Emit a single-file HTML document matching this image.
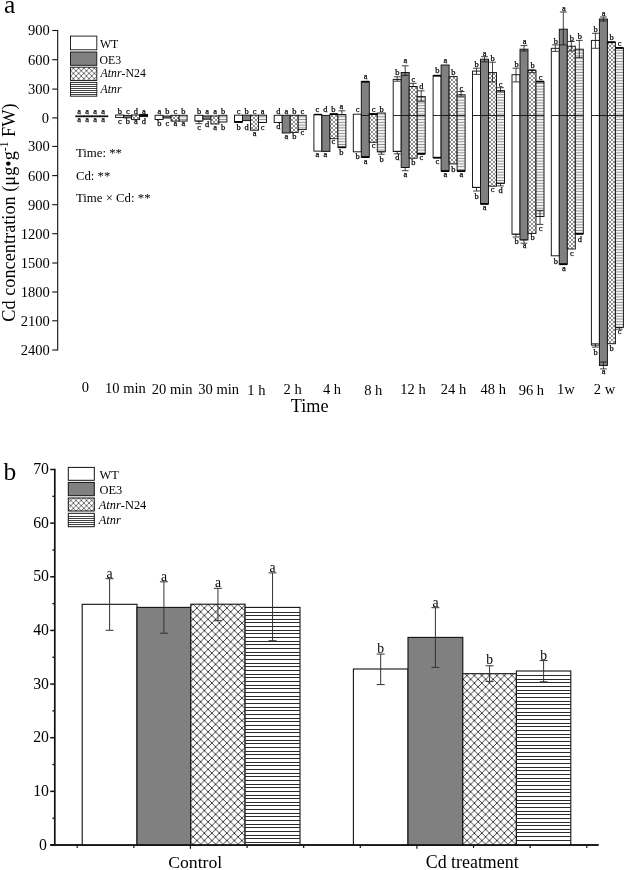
<!DOCTYPE html>
<html lang="en"><head><meta charset="utf-8"><title>Cd concentration figure</title>
<style>html,body{margin:0;padding:0;background:#fff}svg{display:block}text{font-family:"Liberation Serif", serif;fill:#000}</style>
</head><body>
<svg width="625" height="870" viewBox="0 0 625 870">
<defs>
<pattern id="xa" width="4" height="4" patternUnits="userSpaceOnUse"><rect width="4" height="4" fill="#fff"/><path d="M-1,-1L5,5M-1,5L5,-1" stroke="#444" stroke-width="0.6" fill="none"/></pattern>
<pattern id="ha" width="4" height="2.77" patternUnits="userSpaceOnUse"><rect width="4" height="2.77" fill="#fff"/><path d="M0,0.5H4" stroke="#505050" stroke-width="0.62"/><path d="M0,1.9H4" stroke="#d4d4d4" stroke-width="0.5"/></pattern>
<pattern id="xl" width="5.24" height="5.24" patternUnits="userSpaceOnUse"><rect width="5.24" height="5.24" fill="#fff"/><path d="M-1,-1L6.24,6.24M-1,6.24L6.24,-1" stroke="#222" stroke-width="0.65" fill="none"/></pattern>
<pattern id="hl" width="4" height="2.25" patternUnits="userSpaceOnUse"><rect width="4" height="2.25" fill="#fff"/><path d="M0,1.1H4" stroke="#222" stroke-width="0.8"/></pattern>
<pattern id="xb" width="7.5" height="7.5" patternUnits="userSpaceOnUse" x="1.85" y="0.55"><rect width="7.5" height="7.5" fill="#fff"/><path d="M-1,-1L8.5,8.5M-1,8.5L8.5,-1" stroke="#111" stroke-width="0.8" fill="none"/></pattern>
<pattern id="hb" width="6" height="3.66" patternUnits="userSpaceOnUse"><rect width="6" height="3.66" fill="#fff"/><path d="M0,1.83H6" stroke="#111" stroke-width="0.9"/></pattern>
</defs>
<rect width="625" height="870" fill="#fff"/>
<g id="panel-a">
<text x="4" y="13.4" font-size="25.5" text-anchor="start">a</text>
<line x1="57.7" y1="30" x2="57.7" y2="350.5" stroke="#111" stroke-width="1.1"/>
<line x1="52.2" y1="30.5" x2="57.7" y2="30.5" stroke="#111" stroke-width="1.1"/>
<text x="49.8" y="35.4" font-size="14.5" text-anchor="end">900</text>
<line x1="52.2" y1="59.7" x2="57.7" y2="59.7" stroke="#111" stroke-width="1.1"/>
<text x="49.8" y="64.6" font-size="14.5" text-anchor="end">600</text>
<line x1="52.2" y1="89.1" x2="57.7" y2="89.1" stroke="#111" stroke-width="1.1"/>
<text x="49.8" y="94" font-size="14.5" text-anchor="end">300</text>
<line x1="52.2" y1="117.9" x2="57.7" y2="117.9" stroke="#111" stroke-width="1.1"/>
<text x="48.9" y="122.8" font-size="14.5" text-anchor="end">0</text>
<line x1="52.2" y1="146.4" x2="57.7" y2="146.4" stroke="#111" stroke-width="1.1"/>
<text x="49.8" y="151.3" font-size="14.5" text-anchor="end">300</text>
<line x1="52.2" y1="175.6" x2="57.7" y2="175.6" stroke="#111" stroke-width="1.1"/>
<text x="49.8" y="180.5" font-size="14.5" text-anchor="end">600</text>
<line x1="52.2" y1="204.7" x2="57.7" y2="204.7" stroke="#111" stroke-width="1.1"/>
<text x="49.8" y="209.6" font-size="14.5" text-anchor="end">900</text>
<line x1="52.2" y1="233.7" x2="57.7" y2="233.7" stroke="#111" stroke-width="1.1"/>
<text x="49.8" y="238.6" font-size="14.5" text-anchor="end">1200</text>
<line x1="52.2" y1="263" x2="57.7" y2="263" stroke="#111" stroke-width="1.1"/>
<text x="49.8" y="267.9" font-size="14.5" text-anchor="end">1500</text>
<line x1="52.2" y1="292" x2="57.7" y2="292" stroke="#111" stroke-width="1.1"/>
<text x="49.8" y="296.9" font-size="14.5" text-anchor="end">1800</text>
<line x1="52.2" y1="320.8" x2="57.7" y2="320.8" stroke="#111" stroke-width="1.1"/>
<text x="49.8" y="325.7" font-size="14.5" text-anchor="end">2100</text>
<line x1="52.2" y1="350" x2="57.7" y2="350" stroke="#111" stroke-width="1.1"/>
<text x="49.8" y="354.9" font-size="14.5" text-anchor="end">2400</text>
<text transform="translate(14.6,321.7) rotate(-90)" font-size="18.3">Cd concentration (μg•g<tspan font-size="11.5" dy="-7">-1</tspan><tspan dy="7"> FW)</tspan></text>
<rect x="70.5" y="36.1" width="26.3" height="13.7" fill="#fff" stroke="#111" stroke-width="0.9"/>
<rect x="70.5" y="52" width="26.3" height="13.3" fill="#808080" stroke="#111" stroke-width="0.9"/>
<rect x="70.5" y="67.2" width="26.3" height="13.3" fill="url(#xl)" stroke="#111" stroke-width="0.9"/>
<rect x="70.5" y="82.4" width="26.3" height="13.8" fill="#fff" stroke="#111" stroke-width="0.9"/>
<text x="99.9" y="47.6" font-size="11.8" text-anchor="start">WT</text>
<text x="99.6" y="64" font-size="11.8" text-anchor="start">OE3</text>
<text x="100.6" y="77.4" font-size="11.8"><tspan font-style="italic">Atnr</tspan>-N24</text>
<text x="100.6" y="93" font-size="11.8" text-anchor="start" font-style="italic">Atnr</text>
<line x1="70.5" y1="84.5" x2="96.8" y2="84.5" stroke="#111" stroke-width="0.8"/>
<line x1="70.5" y1="86.5" x2="96.8" y2="86.5" stroke="#111" stroke-width="0.8"/>
<line x1="70.5" y1="88.5" x2="96.8" y2="88.5" stroke="#111" stroke-width="0.8"/>
<line x1="70.5" y1="90.5" x2="96.8" y2="90.5" stroke="#111" stroke-width="0.8"/>
<line x1="70.5" y1="92.5" x2="96.8" y2="92.5" stroke="#111" stroke-width="0.8"/>
<line x1="70.5" y1="94.5" x2="96.8" y2="94.5" stroke="#111" stroke-width="0.8"/>
<text x="75.9" y="157.3" font-size="12.8" text-anchor="start">Time: **</text>
<text x="75.9" y="179.7" font-size="12.8" text-anchor="start">Cd: **</text>
<text x="75.9" y="202.1" font-size="12.8" text-anchor="start">Time × Cd: **</text>
<text x="85.4" y="391.9" font-size="14.5" text-anchor="middle">0</text>
<text x="125.4" y="393" font-size="14.5" text-anchor="middle">10 min</text>
<text x="172.2" y="393.6" font-size="14.5" text-anchor="middle">20 min</text>
<text x="218.6" y="394.2" font-size="14.5" text-anchor="middle">30 min</text>
<text x="256.4" y="394.5" font-size="14.5" text-anchor="middle">1 h</text>
<text x="292.6" y="393.6" font-size="14.5" text-anchor="middle">2 h</text>
<text x="332" y="393.6" font-size="14.5" text-anchor="middle">4 h</text>
<text x="373.3" y="394.5" font-size="14.5" text-anchor="middle">8 h</text>
<text x="413" y="393.6" font-size="14.5" text-anchor="middle">12 h</text>
<text x="453.5" y="393.6" font-size="14.5" text-anchor="middle">24 h</text>
<text x="493.3" y="393.6" font-size="14.5" text-anchor="middle">48 h</text>
<text x="531.4" y="394.5" font-size="14.5" text-anchor="middle">96 h</text>
<text x="565.8" y="393.5" font-size="14.5" text-anchor="middle">1w</text>
<text x="604.5" y="393.5" font-size="14.5" text-anchor="middle">2 w</text>
<text x="309.6" y="411.8" font-size="18.2" text-anchor="middle">Time</text>
<g>
<rect x="75.8" y="115.9" width="8" height="0.8" fill="#fff" stroke="#111" stroke-width="0.95"/>
<rect x="83.8" y="115.9" width="8" height="0.8" fill="#808080" stroke="#111" stroke-width="0.95"/>
<rect x="91.8" y="115.9" width="8" height="0.8" fill="url(#xa)" stroke="#111" stroke-width="0.95"/>
<rect x="99.8" y="115.9" width="8" height="0.8" fill="url(#ha)" stroke="#111" stroke-width="0.95"/>
<text x="79.1" y="113.9" font-size="8.4" text-anchor="middle" stroke="#000" stroke-width="0.25">a</text>
<text x="79.1" y="121.9" font-size="8.4" text-anchor="middle" stroke="#000" stroke-width="0.25">a</text>
<text x="87.1" y="113.9" font-size="8.4" text-anchor="middle" stroke="#000" stroke-width="0.25">a</text>
<text x="87.1" y="121.9" font-size="8.4" text-anchor="middle" stroke="#000" stroke-width="0.25">a</text>
<text x="95.1" y="113.9" font-size="8.4" text-anchor="middle" stroke="#000" stroke-width="0.25">a</text>
<text x="95.1" y="121.9" font-size="8.4" text-anchor="middle" stroke="#000" stroke-width="0.25">a</text>
<text x="103.1" y="113.9" font-size="8.4" text-anchor="middle" stroke="#000" stroke-width="0.25">a</text>
<text x="103.1" y="121.9" font-size="8.4" text-anchor="middle" stroke="#000" stroke-width="0.25">a</text>
</g>
<g>
<rect x="115.6" y="115" width="8" height="2.4" fill="#fff" stroke="#111" stroke-width="0.95"/>
<rect x="123.6" y="115.4" width="8" height="2.4" fill="#808080" stroke="#111" stroke-width="0.95"/>
<rect x="131.6" y="115" width="8" height="4.6" fill="url(#xa)" stroke="#111" stroke-width="0.95"/>
<rect x="139.6" y="114.4" width="8" height="2.2" fill="#000" stroke="#111" stroke-width="0.95"/>
<text x="119.8" y="113.9" font-size="8.4" text-anchor="middle" stroke="#000" stroke-width="0.25">b</text>
<text x="119.8" y="124.1" font-size="8.4" text-anchor="middle" stroke="#000" stroke-width="0.25">c</text>
<text x="127.8" y="113.9" font-size="8.4" text-anchor="middle" stroke="#000" stroke-width="0.25">c</text>
<text x="127.8" y="124.1" font-size="8.4" text-anchor="middle" stroke="#000" stroke-width="0.25">b</text>
<text x="135.8" y="113.9" font-size="8.4" text-anchor="middle" stroke="#000" stroke-width="0.25">d</text>
<text x="135.8" y="124.1" font-size="8.4" text-anchor="middle" stroke="#000" stroke-width="0.25">a</text>
<text x="143.8" y="113.9" font-size="8.4" text-anchor="middle" stroke="#000" stroke-width="0.25">a</text>
<text x="143.8" y="124.1" font-size="8.4" text-anchor="middle" stroke="#000" stroke-width="0.25">d</text>
</g>
<g>
<rect x="155.1" y="115.3" width="8" height="4.2" fill="#fff" stroke="#111" stroke-width="0.95"/>
<rect x="163.1" y="116" width="8" height="2" fill="#808080" stroke="#111" stroke-width="0.95"/>
<rect x="171.1" y="115.3" width="8" height="5.8" fill="url(#xa)" stroke="#111" stroke-width="0.95"/>
<rect x="179.1" y="115.3" width="8" height="5.8" fill="url(#ha)" stroke="#111" stroke-width="0.95"/>
<text x="159.3" y="113.9" font-size="8.4" text-anchor="middle" stroke="#000" stroke-width="0.25">a</text>
<text x="159.3" y="125.7" font-size="8.4" text-anchor="middle" stroke="#000" stroke-width="0.25">b</text>
<text x="167.3" y="113.9" font-size="8.4" text-anchor="middle" stroke="#000" stroke-width="0.25">b</text>
<text x="167.3" y="125.7" font-size="8.4" text-anchor="middle" stroke="#000" stroke-width="0.25">c</text>
<text x="175.3" y="113.9" font-size="8.4" text-anchor="middle" stroke="#000" stroke-width="0.25">c</text>
<text x="175.3" y="125.7" font-size="8.4" text-anchor="middle" stroke="#000" stroke-width="0.25">a</text>
<text x="183.3" y="113.9" font-size="8.4" text-anchor="middle" stroke="#000" stroke-width="0.25">b</text>
<text x="183.3" y="125.7" font-size="8.4" text-anchor="middle" stroke="#000" stroke-width="0.25">a</text>
</g>
<g>
<rect x="194.9" y="115.3" width="8" height="5.8" fill="#fff" stroke="#111" stroke-width="0.95"/>
<rect x="202.9" y="115.9" width="8" height="3.3" fill="#808080" stroke="#111" stroke-width="0.95"/>
<rect x="210.9" y="115.9" width="8" height="8.1" fill="url(#xa)" stroke="#111" stroke-width="0.95"/>
<rect x="218.9" y="115.3" width="8" height="6.7" fill="url(#ha)" stroke="#111" stroke-width="0.95"/>
<line x1="198.9" y1="121.1" x2="198.9" y2="123.7" stroke="#111" stroke-width="0.8"/>
<line x1="195.5" y1="121.1" x2="202.3" y2="121.1" stroke="#111" stroke-width="0.8"/>
<line x1="195.5" y1="123.7" x2="202.3" y2="123.7" stroke="#111" stroke-width="0.8"/>
<text x="199.1" y="113.9" font-size="8.4" text-anchor="middle" stroke="#000" stroke-width="0.25">b</text>
<text x="199.1" y="129.5" font-size="8.4" text-anchor="middle" stroke="#000" stroke-width="0.25">c</text>
<text x="207.1" y="113.9" font-size="8.4" text-anchor="middle" stroke="#000" stroke-width="0.25">a</text>
<text x="207.1" y="127" font-size="8.4" text-anchor="middle" stroke="#000" stroke-width="0.25">d</text>
<text x="215.1" y="113.9" font-size="8.4" text-anchor="middle" stroke="#000" stroke-width="0.25">a</text>
<text x="215.1" y="129.5" font-size="8.4" text-anchor="middle" stroke="#000" stroke-width="0.25">a</text>
<text x="223.1" y="113.9" font-size="8.4" text-anchor="middle" stroke="#000" stroke-width="0.25">b</text>
<text x="223.1" y="129.5" font-size="8.4" text-anchor="middle" stroke="#000" stroke-width="0.25">b</text>
</g>
<g>
<rect x="234.5" y="115.2" width="8" height="7.1" fill="#fff" stroke="#111" stroke-width="0.95"/>
<rect x="242.5" y="115.2" width="8" height="5.4" fill="#808080" stroke="#111" stroke-width="0.95"/>
<rect x="250.5" y="115.2" width="8" height="15" fill="url(#xa)" stroke="#111" stroke-width="0.95"/>
<rect x="258.5" y="115.2" width="8" height="7.3" fill="url(#ha)" stroke="#111" stroke-width="0.95"/>
<line x1="234.6" y1="121.9" x2="242.4" y2="121.9" stroke="#000" stroke-width="1.8"/>
<text x="238.7" y="114.2" font-size="8.4" text-anchor="middle" stroke="#000" stroke-width="0.25">c</text>
<text x="238.7" y="129.6" font-size="8.4" text-anchor="middle" stroke="#000" stroke-width="0.25">b</text>
<text x="246.7" y="114.2" font-size="8.4" text-anchor="middle" stroke="#000" stroke-width="0.25">b</text>
<text x="246.7" y="129.6" font-size="8.4" text-anchor="middle" stroke="#000" stroke-width="0.25">d</text>
<text x="254.7" y="114.2" font-size="8.4" text-anchor="middle" stroke="#000" stroke-width="0.25">c</text>
<text x="254.7" y="135.7" font-size="8.4" text-anchor="middle" stroke="#000" stroke-width="0.25">a</text>
<text x="262.7" y="114.2" font-size="8.4" text-anchor="middle" stroke="#000" stroke-width="0.25">a</text>
<text x="262.7" y="129.6" font-size="8.4" text-anchor="middle" stroke="#000" stroke-width="0.25">c</text>
</g>
<g>
<rect x="274.2" y="115.3" width="8" height="7.2" fill="#fff" stroke="#111" stroke-width="0.95"/>
<rect x="282.2" y="115.3" width="8" height="17.7" fill="#808080" stroke="#111" stroke-width="0.95"/>
<rect x="290.2" y="115.3" width="8" height="17.1" fill="url(#xa)" stroke="#111" stroke-width="0.95"/>
<rect x="298.2" y="115.3" width="8" height="14.3" fill="url(#ha)" stroke="#111" stroke-width="0.95"/>
<text x="278.4" y="114.2" font-size="8.4" text-anchor="middle" stroke="#000" stroke-width="0.25">d</text>
<text x="278.4" y="129" font-size="8.4" text-anchor="middle" stroke="#000" stroke-width="0.25">d</text>
<text x="286.4" y="114.2" font-size="8.4" text-anchor="middle" stroke="#000" stroke-width="0.25">a</text>
<text x="286.4" y="138.6" font-size="8.4" text-anchor="middle" stroke="#000" stroke-width="0.25">a</text>
<text x="294.4" y="114.2" font-size="8.4" text-anchor="middle" stroke="#000" stroke-width="0.25">b</text>
<text x="294.4" y="138.6" font-size="8.4" text-anchor="middle" stroke="#000" stroke-width="0.25">b</text>
<text x="302.4" y="114.2" font-size="8.4" text-anchor="middle" stroke="#000" stroke-width="0.25">c</text>
<text x="302.4" y="134.8" font-size="8.4" text-anchor="middle" stroke="#000" stroke-width="0.25">c</text>
</g>
<g>
<rect x="313.9" y="114.7" width="8" height="36.4" fill="#fff" stroke="#111" stroke-width="0.95"/>
<rect x="321.9" y="115.4" width="8" height="36" fill="#808080" stroke="#111" stroke-width="0.95"/>
<rect x="329.9" y="114.2" width="8" height="24.5" fill="url(#xa)" stroke="#111" stroke-width="0.95"/>
<rect x="337.9" y="114.7" width="8" height="32.7" fill="url(#ha)" stroke="#111" stroke-width="0.95"/>
<line x1="314" y1="114.5" x2="321.8" y2="114.5" stroke="#000" stroke-width="1.4"/>
<line x1="330" y1="114.1" x2="337.8" y2="114.1" stroke="#000" stroke-width="1.8"/>
<line x1="341.9" y1="110.8" x2="341.9" y2="114.7" stroke="#111" stroke-width="0.8"/>
<line x1="338.5" y1="110.8" x2="345.3" y2="110.8" stroke="#111" stroke-width="0.8"/>
<line x1="338.5" y1="114.7" x2="345.3" y2="114.7" stroke="#111" stroke-width="0.8"/>
<line x1="338" y1="147.3" x2="345.8" y2="147.3" stroke="#000" stroke-width="1.8"/>
<text x="317.3" y="111.8" font-size="8.4" text-anchor="middle" stroke="#000" stroke-width="0.25">c</text>
<text x="317.3" y="156.8" font-size="8.4" text-anchor="middle" stroke="#000" stroke-width="0.25">a</text>
<text x="325.3" y="111.8" font-size="8.4" text-anchor="middle" stroke="#000" stroke-width="0.25">d</text>
<text x="325.3" y="156.8" font-size="8.4" text-anchor="middle" stroke="#000" stroke-width="0.25">a</text>
<text x="333.3" y="111.8" font-size="8.4" text-anchor="middle" stroke="#000" stroke-width="0.25">b</text>
<text x="333.3" y="144" font-size="8.4" text-anchor="middle" stroke="#000" stroke-width="0.25">c</text>
<text x="341.3" y="109" font-size="8.4" text-anchor="middle" stroke="#000" stroke-width="0.25">a</text>
<text x="341.3" y="155" font-size="8.4" text-anchor="middle" stroke="#000" stroke-width="0.25">b</text>
</g>
<g>
<rect x="353.3" y="114.2" width="8" height="37.6" fill="#fff" stroke="#111" stroke-width="0.95"/>
<rect x="361.3" y="81.6" width="8" height="75.6" fill="#808080" stroke="#111" stroke-width="0.95"/>
<rect x="369.3" y="114.2" width="8" height="28.1" fill="url(#xa)" stroke="#111" stroke-width="0.95"/>
<rect x="377.3" y="113" width="8" height="38.8" fill="url(#ha)" stroke="#111" stroke-width="0.95"/>
<line x1="361.4" y1="81.7" x2="369.2" y2="81.7" stroke="#000" stroke-width="1.8"/>
<line x1="361.4" y1="157.1" x2="369.2" y2="157.1" stroke="#000" stroke-width="1.8"/>
<line x1="369.4" y1="114.05" x2="377.2" y2="114.05" stroke="#000" stroke-width="1.9"/>
<line x1="381.3" y1="151.8" x2="381.3" y2="154.3" stroke="#111" stroke-width="0.8"/>
<line x1="377.9" y1="151.8" x2="384.7" y2="151.8" stroke="#111" stroke-width="0.8"/>
<line x1="377.9" y1="154.3" x2="384.7" y2="154.3" stroke="#111" stroke-width="0.8"/>
<text x="357.5" y="111.8" font-size="8.4" text-anchor="middle" stroke="#000" stroke-width="0.25">c</text>
<text x="357.5" y="159.3" font-size="8.4" text-anchor="middle" stroke="#000" stroke-width="0.25">b</text>
<text x="365.5" y="79.4" font-size="8.4" text-anchor="middle" stroke="#000" stroke-width="0.25">a</text>
<text x="365.5" y="163.7" font-size="8.4" text-anchor="middle" stroke="#000" stroke-width="0.25">a</text>
<text x="373.5" y="111.8" font-size="8.4" text-anchor="middle" stroke="#000" stroke-width="0.25">c</text>
<text x="373.5" y="147.8" font-size="8.4" text-anchor="middle" stroke="#000" stroke-width="0.25">c</text>
<text x="381.5" y="111.8" font-size="8.4" text-anchor="middle" stroke="#000" stroke-width="0.25">b</text>
<text x="381.5" y="161.5" font-size="8.4" text-anchor="middle" stroke="#000" stroke-width="0.25">b</text>
</g>
<g>
<rect x="393.2" y="79.4" width="8" height="72" fill="#fff" stroke="#111" stroke-width="0.95"/>
<rect x="401.2" y="72.5" width="8" height="95" fill="#808080" stroke="#111" stroke-width="0.95"/>
<rect x="409.2" y="86.5" width="8" height="71.7" fill="url(#xa)" stroke="#111" stroke-width="0.95"/>
<rect x="417.2" y="96.6" width="8" height="57.2" fill="url(#ha)" stroke="#111" stroke-width="0.95"/>
<line x1="397.2" y1="76.8" x2="397.2" y2="81.2" stroke="#111" stroke-width="0.8"/>
<line x1="393.8" y1="76.8" x2="400.6" y2="76.8" stroke="#111" stroke-width="0.8"/>
<line x1="393.8" y1="81.2" x2="400.6" y2="81.2" stroke="#111" stroke-width="0.8"/>
<line x1="397.2" y1="151.4" x2="397.2" y2="153.8" stroke="#111" stroke-width="0.8"/>
<line x1="393.8" y1="151.4" x2="400.6" y2="151.4" stroke="#111" stroke-width="0.8"/>
<line x1="393.8" y1="153.8" x2="400.6" y2="153.8" stroke="#111" stroke-width="0.8"/>
<line x1="405.2" y1="65.8" x2="405.2" y2="75.4" stroke="#111" stroke-width="0.8"/>
<line x1="401.8" y1="65.8" x2="408.6" y2="65.8" stroke="#111" stroke-width="0.8"/>
<line x1="401.8" y1="75.4" x2="408.6" y2="75.4" stroke="#111" stroke-width="0.8"/>
<line x1="405.2" y1="167.5" x2="405.2" y2="170.7" stroke="#111" stroke-width="0.8"/>
<line x1="401.8" y1="167.5" x2="408.6" y2="167.5" stroke="#111" stroke-width="0.8"/>
<line x1="401.8" y1="170.7" x2="408.6" y2="170.7" stroke="#111" stroke-width="0.8"/>
<line x1="413.2" y1="83.3" x2="413.2" y2="86.5" stroke="#111" stroke-width="0.8"/>
<line x1="409.8" y1="83.3" x2="416.6" y2="83.3" stroke="#111" stroke-width="0.8"/>
<line x1="409.8" y1="86.5" x2="416.6" y2="86.5" stroke="#111" stroke-width="0.8"/>
<line x1="421.2" y1="90.8" x2="421.2" y2="101.3" stroke="#111" stroke-width="0.8"/>
<line x1="417.8" y1="90.8" x2="424.6" y2="90.8" stroke="#111" stroke-width="0.8"/>
<line x1="417.8" y1="101.3" x2="424.6" y2="101.3" stroke="#111" stroke-width="0.8"/>
<line x1="417.3" y1="153.9" x2="425.1" y2="153.9" stroke="#000" stroke-width="1.8"/>
<text x="397.4" y="74.7" font-size="8.4" text-anchor="middle" stroke="#000" stroke-width="0.25">b</text>
<text x="397.4" y="160.3" font-size="8.4" text-anchor="middle" stroke="#000" stroke-width="0.25">d</text>
<text x="405.4" y="63.3" font-size="8.4" text-anchor="middle" stroke="#000" stroke-width="0.25">a</text>
<text x="405.4" y="176.5" font-size="8.4" text-anchor="middle" stroke="#000" stroke-width="0.25">a</text>
<text x="413.4" y="81.9" font-size="8.4" text-anchor="middle" stroke="#000" stroke-width="0.25">c</text>
<text x="413.4" y="165" font-size="8.4" text-anchor="middle" stroke="#000" stroke-width="0.25">b</text>
<text x="421.4" y="89" font-size="8.4" text-anchor="middle" stroke="#000" stroke-width="0.25">d</text>
<text x="421.4" y="159.7" font-size="8.4" text-anchor="middle" stroke="#000" stroke-width="0.25">c</text>
</g>
<g>
<rect x="433.1" y="75.7" width="8" height="82" fill="#fff" stroke="#111" stroke-width="0.95"/>
<rect x="441.1" y="65" width="8" height="106.1" fill="#808080" stroke="#111" stroke-width="0.95"/>
<rect x="449.1" y="76.6" width="8" height="87.3" fill="url(#xa)" stroke="#111" stroke-width="0.95"/>
<rect x="457.1" y="94.8" width="8" height="76.3" fill="url(#ha)" stroke="#111" stroke-width="0.95"/>
<line x1="433.2" y1="75.7" x2="441" y2="75.7" stroke="#000" stroke-width="1.8"/>
<line x1="433.2" y1="157.7" x2="441" y2="157.7" stroke="#000" stroke-width="1.8"/>
<line x1="441.2" y1="171.1" x2="449" y2="171.1" stroke="#000" stroke-width="1.8"/>
<line x1="461.1" y1="91.5" x2="461.1" y2="96.3" stroke="#111" stroke-width="0.8"/>
<line x1="457.7" y1="91.5" x2="464.5" y2="91.5" stroke="#111" stroke-width="0.8"/>
<line x1="457.7" y1="96.3" x2="464.5" y2="96.3" stroke="#111" stroke-width="0.8"/>
<line x1="457.2" y1="171.1" x2="465" y2="171.1" stroke="#000" stroke-width="1.8"/>
<text x="437.3" y="72.5" font-size="8.4" text-anchor="middle" stroke="#000" stroke-width="0.25">b</text>
<text x="437.3" y="163.7" font-size="8.4" text-anchor="middle" stroke="#000" stroke-width="0.25">c</text>
<text x="445.3" y="63.3" font-size="8.4" text-anchor="middle" stroke="#000" stroke-width="0.25">a</text>
<text x="445.3" y="177.3" font-size="8.4" text-anchor="middle" stroke="#000" stroke-width="0.25">a</text>
<text x="453.3" y="75.4" font-size="8.4" text-anchor="middle" stroke="#000" stroke-width="0.25">b</text>
<text x="453.3" y="171.6" font-size="8.4" text-anchor="middle" stroke="#000" stroke-width="0.25">b</text>
<text x="461.3" y="90.5" font-size="8.4" text-anchor="middle" stroke="#000" stroke-width="0.25">c</text>
<text x="461.3" y="177.3" font-size="8.4" text-anchor="middle" stroke="#000" stroke-width="0.25">a</text>
</g>
<g>
<rect x="472.5" y="71.1" width="8" height="116.3" fill="#fff" stroke="#111" stroke-width="0.95"/>
<rect x="480.5" y="59.2" width="8" height="144.7" fill="#808080" stroke="#111" stroke-width="0.95"/>
<rect x="488.5" y="72.6" width="8" height="113.6" fill="url(#xa)" stroke="#111" stroke-width="0.95"/>
<rect x="496.5" y="90.6" width="8" height="92.7" fill="url(#ha)" stroke="#111" stroke-width="0.95"/>
<line x1="476.5" y1="68.2" x2="476.5" y2="74.4" stroke="#111" stroke-width="0.8"/>
<line x1="473.1" y1="68.2" x2="479.9" y2="68.2" stroke="#111" stroke-width="0.8"/>
<line x1="473.1" y1="74.4" x2="479.9" y2="74.4" stroke="#111" stroke-width="0.8"/>
<line x1="476.5" y1="187.4" x2="476.5" y2="191" stroke="#111" stroke-width="0.8"/>
<line x1="473.1" y1="187.4" x2="479.9" y2="187.4" stroke="#111" stroke-width="0.8"/>
<line x1="473.1" y1="191" x2="479.9" y2="191" stroke="#111" stroke-width="0.8"/>
<line x1="484.5" y1="56.7" x2="484.5" y2="61.8" stroke="#111" stroke-width="0.8"/>
<line x1="481.1" y1="56.7" x2="487.9" y2="56.7" stroke="#111" stroke-width="0.8"/>
<line x1="481.1" y1="61.8" x2="487.9" y2="61.8" stroke="#111" stroke-width="0.8"/>
<line x1="480.6" y1="203.9" x2="488.4" y2="203.9" stroke="#000" stroke-width="1.8"/>
<line x1="492.5" y1="62.2" x2="492.5" y2="81.9" stroke="#111" stroke-width="0.8"/>
<line x1="489.1" y1="62.2" x2="495.9" y2="62.2" stroke="#111" stroke-width="0.8"/>
<line x1="489.1" y1="81.9" x2="495.9" y2="81.9" stroke="#111" stroke-width="0.8"/>
<line x1="500.5" y1="87.7" x2="500.5" y2="92" stroke="#111" stroke-width="0.8"/>
<line x1="497.1" y1="87.7" x2="503.9" y2="87.7" stroke="#111" stroke-width="0.8"/>
<line x1="497.1" y1="92" x2="503.9" y2="92" stroke="#111" stroke-width="0.8"/>
<line x1="500.5" y1="183.3" x2="500.5" y2="185.9" stroke="#111" stroke-width="0.8"/>
<line x1="497.1" y1="183.3" x2="503.9" y2="183.3" stroke="#111" stroke-width="0.8"/>
<line x1="497.1" y1="185.9" x2="503.9" y2="185.9" stroke="#111" stroke-width="0.8"/>
<text x="476.7" y="66.8" font-size="8.4" text-anchor="middle" stroke="#000" stroke-width="0.25">b</text>
<text x="476.7" y="198.6" font-size="8.4" text-anchor="middle" stroke="#000" stroke-width="0.25">b</text>
<text x="484.7" y="56" font-size="8.4" text-anchor="middle" stroke="#000" stroke-width="0.25">a</text>
<text x="484.7" y="209.7" font-size="8.4" text-anchor="middle" stroke="#000" stroke-width="0.25">a</text>
<text x="492.7" y="61" font-size="8.4" text-anchor="middle" stroke="#000" stroke-width="0.25">b</text>
<text x="492.7" y="192.4" font-size="8.4" text-anchor="middle" stroke="#000" stroke-width="0.25">c</text>
<text x="500.7" y="87" font-size="8.4" text-anchor="middle" stroke="#000" stroke-width="0.25">c</text>
<text x="500.7" y="192.8" font-size="8.4" text-anchor="middle" stroke="#000" stroke-width="0.25">d</text>
</g>
<g>
<rect x="512" y="74.7" width="8" height="159.5" fill="#fff" stroke="#111" stroke-width="0.95"/>
<rect x="520" y="49.2" width="8" height="190.7" fill="#808080" stroke="#111" stroke-width="0.95"/>
<rect x="528" y="70.4" width="8" height="163" fill="url(#xa)" stroke="#111" stroke-width="0.95"/>
<rect x="536" y="81.6" width="8" height="134.9" fill="url(#ha)" stroke="#111" stroke-width="0.95"/>
<line x1="516" y1="68.2" x2="516" y2="81.9" stroke="#111" stroke-width="0.8"/>
<line x1="512.6" y1="68.2" x2="519.4" y2="68.2" stroke="#111" stroke-width="0.8"/>
<line x1="512.6" y1="81.9" x2="519.4" y2="81.9" stroke="#111" stroke-width="0.8"/>
<line x1="516" y1="234.2" x2="516" y2="237" stroke="#111" stroke-width="0.8"/>
<line x1="512.6" y1="234.2" x2="519.4" y2="234.2" stroke="#111" stroke-width="0.8"/>
<line x1="512.6" y1="237" x2="519.4" y2="237" stroke="#111" stroke-width="0.8"/>
<line x1="524" y1="45.6" x2="524" y2="51" stroke="#111" stroke-width="0.8"/>
<line x1="520.6" y1="45.6" x2="527.4" y2="45.6" stroke="#111" stroke-width="0.8"/>
<line x1="520.6" y1="51" x2="527.4" y2="51" stroke="#111" stroke-width="0.8"/>
<line x1="524" y1="239.9" x2="524" y2="243.2" stroke="#111" stroke-width="0.8"/>
<line x1="520.6" y1="239.9" x2="527.4" y2="239.9" stroke="#111" stroke-width="0.8"/>
<line x1="520.6" y1="243.2" x2="527.4" y2="243.2" stroke="#111" stroke-width="0.8"/>
<line x1="532" y1="69.7" x2="532" y2="72.6" stroke="#111" stroke-width="0.8"/>
<line x1="528.6" y1="69.7" x2="535.4" y2="69.7" stroke="#111" stroke-width="0.8"/>
<line x1="528.6" y1="72.6" x2="535.4" y2="72.6" stroke="#111" stroke-width="0.8"/>
<line x1="536.1" y1="81.6" x2="543.9" y2="81.6" stroke="#000" stroke-width="1.8"/>
<line x1="540" y1="210.4" x2="540" y2="224.4" stroke="#111" stroke-width="0.8"/>
<line x1="536.6" y1="210.4" x2="543.4" y2="210.4" stroke="#111" stroke-width="0.8"/>
<line x1="536.6" y1="224.4" x2="543.4" y2="224.4" stroke="#111" stroke-width="0.8"/>
<text x="516.5" y="66.8" font-size="8.4" text-anchor="middle" stroke="#000" stroke-width="0.25">b</text>
<text x="516.5" y="244.2" font-size="8.4" text-anchor="middle" stroke="#000" stroke-width="0.25">b</text>
<text x="524.5" y="44.2" font-size="8.4" text-anchor="middle" stroke="#000" stroke-width="0.25">a</text>
<text x="524.5" y="248.1" font-size="8.4" text-anchor="middle" stroke="#000" stroke-width="0.25">a</text>
<text x="532.5" y="68.2" font-size="8.4" text-anchor="middle" stroke="#000" stroke-width="0.25">b</text>
<text x="532.5" y="240.4" font-size="8.4" text-anchor="middle" stroke="#000" stroke-width="0.25">b</text>
<text x="540.5" y="79.8" font-size="8.4" text-anchor="middle" stroke="#000" stroke-width="0.25">c</text>
<text x="540.5" y="230.6" font-size="8.4" text-anchor="middle" stroke="#000" stroke-width="0.25">c</text>
</g>
<g>
<rect x="551.3" y="48.3" width="8" height="207.5" fill="#fff" stroke="#111" stroke-width="0.95"/>
<rect x="559.3" y="29.2" width="8" height="235" fill="#808080" stroke="#111" stroke-width="0.95"/>
<rect x="567.3" y="46.2" width="8" height="202.8" fill="url(#xa)" stroke="#111" stroke-width="0.95"/>
<rect x="575.3" y="49.2" width="8" height="184.6" fill="url(#ha)" stroke="#111" stroke-width="0.95"/>
<line x1="555.3" y1="44.9" x2="555.3" y2="51.4" stroke="#111" stroke-width="0.8"/>
<line x1="551.9" y1="44.9" x2="558.7" y2="44.9" stroke="#111" stroke-width="0.8"/>
<line x1="551.9" y1="51.4" x2="558.7" y2="51.4" stroke="#111" stroke-width="0.8"/>
<line x1="563.3" y1="12" x2="563.3" y2="44.9" stroke="#111" stroke-width="0.8"/>
<line x1="559.9" y1="12" x2="566.7" y2="12" stroke="#111" stroke-width="0.8"/>
<line x1="559.9" y1="44.9" x2="566.7" y2="44.9" stroke="#111" stroke-width="0.8"/>
<line x1="559.4" y1="264.2" x2="567.2" y2="264.2" stroke="#000" stroke-width="1.8"/>
<line x1="571.3" y1="41.5" x2="571.3" y2="51" stroke="#111" stroke-width="0.8"/>
<line x1="567.9" y1="41.5" x2="574.7" y2="41.5" stroke="#111" stroke-width="0.8"/>
<line x1="567.9" y1="51" x2="574.7" y2="51" stroke="#111" stroke-width="0.8"/>
<line x1="579.3" y1="40.4" x2="579.3" y2="57.4" stroke="#111" stroke-width="0.8"/>
<line x1="575.9" y1="40.4" x2="582.7" y2="40.4" stroke="#111" stroke-width="0.8"/>
<line x1="575.9" y1="57.4" x2="582.7" y2="57.4" stroke="#111" stroke-width="0.8"/>
<line x1="575.4" y1="233.8" x2="583.2" y2="233.8" stroke="#000" stroke-width="1.8"/>
<text x="555.9" y="44.2" font-size="8.4" text-anchor="middle" stroke="#000" stroke-width="0.25">b</text>
<text x="555.9" y="263.7" font-size="8.4" text-anchor="middle" stroke="#000" stroke-width="0.25">b</text>
<text x="563.9" y="10.6" font-size="8.4" text-anchor="middle" stroke="#000" stroke-width="0.25">a</text>
<text x="563.9" y="270.8" font-size="8.4" text-anchor="middle" stroke="#000" stroke-width="0.25">a</text>
<text x="571.9" y="40.5" font-size="8.4" text-anchor="middle" stroke="#000" stroke-width="0.25">b</text>
<text x="571.9" y="255.5" font-size="8.4" text-anchor="middle" stroke="#000" stroke-width="0.25">c</text>
<text x="579.9" y="39.4" font-size="8.4" text-anchor="middle" stroke="#000" stroke-width="0.25">b</text>
<text x="579.9" y="242.2" font-size="8.4" text-anchor="middle" stroke="#000" stroke-width="0.25">d</text>
</g>
<g>
<rect x="591.4" y="40.4" width="8" height="304.7" fill="#fff" stroke="#111" stroke-width="0.95"/>
<rect x="599.4" y="19" width="8" height="346.5" fill="#808080" stroke="#111" stroke-width="0.95"/>
<rect x="607.4" y="42.2" width="8" height="301.5" fill="url(#xa)" stroke="#111" stroke-width="0.95"/>
<rect x="615.4" y="47.9" width="8" height="279.5" fill="url(#ha)" stroke="#111" stroke-width="0.95"/>
<line x1="595.4" y1="33.3" x2="595.4" y2="48.3" stroke="#111" stroke-width="0.8"/>
<line x1="592" y1="33.3" x2="598.8" y2="33.3" stroke="#111" stroke-width="0.8"/>
<line x1="592" y1="48.3" x2="598.8" y2="48.3" stroke="#111" stroke-width="0.8"/>
<line x1="595.4" y1="343.7" x2="595.4" y2="347.1" stroke="#111" stroke-width="0.8"/>
<line x1="592" y1="343.7" x2="598.8" y2="343.7" stroke="#111" stroke-width="0.8"/>
<line x1="592" y1="347.1" x2="598.8" y2="347.1" stroke="#111" stroke-width="0.8"/>
<line x1="603.4" y1="17" x2="603.4" y2="21" stroke="#111" stroke-width="0.8"/>
<line x1="600" y1="17" x2="606.8" y2="17" stroke="#111" stroke-width="0.8"/>
<line x1="600" y1="21" x2="606.8" y2="21" stroke="#111" stroke-width="0.8"/>
<line x1="603.4" y1="362" x2="603.4" y2="368.9" stroke="#111" stroke-width="0.8"/>
<line x1="600" y1="362" x2="606.8" y2="362" stroke="#111" stroke-width="0.8"/>
<line x1="600" y1="368.9" x2="606.8" y2="368.9" stroke="#111" stroke-width="0.8"/>
<line x1="607.5" y1="42.2" x2="615.3" y2="42.2" stroke="#000" stroke-width="1.8"/>
<line x1="615.5" y1="47.9" x2="623.3" y2="47.9" stroke="#000" stroke-width="1.8"/>
<line x1="619.4" y1="327.4" x2="619.4" y2="329.2" stroke="#111" stroke-width="0.8"/>
<line x1="616" y1="327.4" x2="622.8" y2="327.4" stroke="#111" stroke-width="0.8"/>
<line x1="616" y1="329.2" x2="622.8" y2="329.2" stroke="#111" stroke-width="0.8"/>
<text x="595.6" y="32.4" font-size="8.4" text-anchor="middle" stroke="#000" stroke-width="0.25">b</text>
<text x="595.6" y="354.6" font-size="8.4" text-anchor="middle" stroke="#000" stroke-width="0.25">b</text>
<text x="603.6" y="15.6" font-size="8.4" text-anchor="middle" stroke="#000" stroke-width="0.25">a</text>
<text x="603.6" y="373.6" font-size="8.4" text-anchor="middle" stroke="#000" stroke-width="0.25">a</text>
<text x="611.6" y="40" font-size="8.4" text-anchor="middle" stroke="#000" stroke-width="0.25">b</text>
<text x="611.6" y="351" font-size="8.4" text-anchor="middle" stroke="#000" stroke-width="0.25">b</text>
<text x="619.6" y="45.6" font-size="8.4" text-anchor="middle" stroke="#000" stroke-width="0.25">c</text>
<text x="619.6" y="334.2" font-size="8.4" text-anchor="middle" stroke="#000" stroke-width="0.25">c</text>
</g>
<line x1="393.2" y1="115.5" x2="425.2" y2="115.5" stroke="#111" stroke-width="0.9"/>
<line x1="433.1" y1="115.5" x2="465.1" y2="115.5" stroke="#111" stroke-width="0.9"/>
<line x1="472.5" y1="115.5" x2="504.5" y2="115.5" stroke="#111" stroke-width="0.9"/>
<line x1="512" y1="115.5" x2="544" y2="115.5" stroke="#111" stroke-width="0.9"/>
<line x1="551.3" y1="115.5" x2="583.3" y2="115.5" stroke="#111" stroke-width="0.9"/>
<line x1="591.4" y1="115.5" x2="623.4" y2="115.5" stroke="#111" stroke-width="0.9"/>
<line x1="361.4" y1="115.5" x2="369.4" y2="115.5" stroke="#111" stroke-width="0.9"/>
</g>
<g id="panel-b">
<text x="3.5" y="480.3" font-size="25.5" text-anchor="start">b</text>
<line x1="54.8" y1="468.7" x2="54.8" y2="845.8" stroke="#111" stroke-width="1.7"/>
<line x1="50.4" y1="845" x2="598.6" y2="845" stroke="#111" stroke-width="1.6"/>
<line x1="50.2" y1="845" x2="54.8" y2="845" stroke="#111" stroke-width="1.5"/>
<text x="46.8" y="849.5" font-size="15.8" text-anchor="end">0</text>
<line x1="52.4" y1="818.18" x2="54.8" y2="818.18" stroke="#111" stroke-width="1.3"/>
<line x1="50.2" y1="791.36" x2="54.8" y2="791.36" stroke="#111" stroke-width="1.5"/>
<text x="49" y="795.86" font-size="15.8" text-anchor="end">10</text>
<line x1="52.4" y1="764.54" x2="54.8" y2="764.54" stroke="#111" stroke-width="1.3"/>
<line x1="50.2" y1="737.71" x2="54.8" y2="737.71" stroke="#111" stroke-width="1.5"/>
<text x="49" y="742.21" font-size="15.8" text-anchor="end">20</text>
<line x1="52.4" y1="710.89" x2="54.8" y2="710.89" stroke="#111" stroke-width="1.3"/>
<line x1="50.2" y1="684.07" x2="54.8" y2="684.07" stroke="#111" stroke-width="1.5"/>
<text x="49" y="688.57" font-size="15.8" text-anchor="end">30</text>
<line x1="52.4" y1="657.25" x2="54.8" y2="657.25" stroke="#111" stroke-width="1.3"/>
<line x1="50.2" y1="630.43" x2="54.8" y2="630.43" stroke="#111" stroke-width="1.5"/>
<text x="49" y="634.93" font-size="15.8" text-anchor="end">40</text>
<line x1="52.4" y1="603.61" x2="54.8" y2="603.61" stroke="#111" stroke-width="1.3"/>
<line x1="50.2" y1="576.79" x2="54.8" y2="576.79" stroke="#111" stroke-width="1.5"/>
<text x="49" y="581.29" font-size="15.8" text-anchor="end">50</text>
<line x1="52.4" y1="549.96" x2="54.8" y2="549.96" stroke="#111" stroke-width="1.3"/>
<line x1="50.2" y1="523.14" x2="54.8" y2="523.14" stroke="#111" stroke-width="1.5"/>
<text x="49" y="527.64" font-size="15.8" text-anchor="end">60</text>
<line x1="52.4" y1="496.32" x2="54.8" y2="496.32" stroke="#111" stroke-width="1.3"/>
<line x1="50.2" y1="469.5" x2="54.8" y2="469.5" stroke="#111" stroke-width="1.5"/>
<text x="49" y="474" font-size="15.8" text-anchor="end">70</text>
<line x1="77.2" y1="845" x2="77.2" y2="848" stroke="#111" stroke-width="1.2"/>
<line x1="133.82" y1="845" x2="133.82" y2="848" stroke="#111" stroke-width="1.2"/>
<line x1="190.44" y1="845" x2="190.44" y2="848.8" stroke="#111" stroke-width="1.2"/>
<line x1="247.06" y1="845" x2="247.06" y2="848" stroke="#111" stroke-width="1.2"/>
<line x1="303.68" y1="845" x2="303.68" y2="848" stroke="#111" stroke-width="1.2"/>
<line x1="360.3" y1="845" x2="360.3" y2="848" stroke="#111" stroke-width="1.2"/>
<line x1="416.92" y1="845" x2="416.92" y2="848.8" stroke="#111" stroke-width="1.2"/>
<line x1="473.54" y1="845" x2="473.54" y2="848" stroke="#111" stroke-width="1.2"/>
<line x1="530.16" y1="845" x2="530.16" y2="848" stroke="#111" stroke-width="1.2"/>
<line x1="586.78" y1="845" x2="586.78" y2="848" stroke="#111" stroke-width="1.2"/>
<text x="195.2" y="868" font-size="17.7" text-anchor="middle">Control</text>
<text x="472.2" y="867.9" font-size="17.9" text-anchor="middle">Cd treatment</text>
<rect x="68.3" y="467.4" width="26" height="12.9" fill="#fff" stroke="#111" stroke-width="1"/>
<rect x="68.3" y="482.4" width="26" height="13.3" fill="#808080" stroke="#111" stroke-width="1"/>
<rect x="68.3" y="498" width="26" height="13" fill="url(#xl)" stroke="#111" stroke-width="1"/>
<rect x="68.3" y="513.3" width="26" height="13.4" fill="#fff" stroke="#111" stroke-width="1"/>
<line x1="68.3" y1="516.5" x2="94.3" y2="516.5" stroke="#111" stroke-width="0.8"/>
<line x1="68.3" y1="518.5" x2="94.3" y2="518.5" stroke="#111" stroke-width="0.8"/>
<line x1="68.3" y1="520.5" x2="94.3" y2="520.5" stroke="#111" stroke-width="0.8"/>
<line x1="68.3" y1="522.5" x2="94.3" y2="522.5" stroke="#111" stroke-width="0.8"/>
<line x1="68.3" y1="524.5" x2="94.3" y2="524.5" stroke="#111" stroke-width="0.8"/>
<text x="99.5" y="479.2" font-size="12.4" text-anchor="start">WT</text>
<text x="99.5" y="493.7" font-size="12.4" text-anchor="start">OE3</text>
<text x="98.8" y="508.9" font-size="12.4"><tspan font-style="italic">Atnr</tspan>-N24</text>
<text x="98.8" y="523.5" font-size="12.4" text-anchor="start" font-style="italic">Atnr</text>
<rect x="82.2" y="604.3" width="54.8" height="240.7" fill="#fff" stroke="#111" stroke-width="1.1"/>
<rect x="137" y="607.4" width="53.8" height="237.6" fill="#808080" stroke="#111" stroke-width="1.1"/>
<rect x="190.8" y="604.2" width="54.3" height="240.8" fill="url(#xb)" stroke="#111" stroke-width="1.1"/>
<rect x="245.1" y="607.4" width="54.9" height="237.6" fill="#fff" stroke="#111" stroke-width="1.1"/>
<path d="M245.1,612.5H300M245.1,615.5H300M245.1,619.5H300M245.1,622.5H300M245.1,626.5H300M245.1,630.5H300M245.1,633.5H300M245.1,637.5H300M245.1,641.5H300M245.1,644.5H300M245.1,648.5H300M245.1,652.5H300M245.1,655.5H300M245.1,659.5H300M245.1,663.5H300M245.1,666.5H300M245.1,670.5H300M245.1,674.5H300M245.1,677.5H300M245.1,681.5H300M245.1,685.5H300M245.1,688.5H300M245.1,692.5H300M245.1,696.5H300M245.1,699.5H300M245.1,703.5H300M245.1,707.5H300M245.1,710.5H300M245.1,714.5H300M245.1,718.5H300M245.1,721.5H300M245.1,725.5H300M245.1,729.5H300M245.1,732.5H300M245.1,736.5H300M245.1,740.5H300M245.1,743.5H300M245.1,747.5H300M245.1,751.5H300M245.1,754.5H300M245.1,758.5H300M245.1,762.5H300M245.1,765.5H300M245.1,769.5H300M245.1,773.5H300M245.1,776.5H300M245.1,780.5H300M245.1,784.5H300M245.1,787.5H300M245.1,791.5H300M245.1,795.5H300M245.1,798.5H300M245.1,802.5H300M245.1,805.5H300M245.1,809.5H300M245.1,813.5H300M245.1,816.5H300M245.1,820.5H300M245.1,824.5H300M245.1,827.5H300M245.1,831.5H300M245.1,835.5H300M245.1,838.5H300M245.1,842.5H300" stroke="#2a2a2a" stroke-width="1" fill="none"/>
<rect x="353.4" y="669" width="54.6" height="176" fill="#fff" stroke="#111" stroke-width="1.1"/>
<rect x="408" y="637.4" width="54.8" height="207.6" fill="#808080" stroke="#111" stroke-width="1.1"/>
<rect x="462.8" y="673.7" width="53.6" height="171.3" fill="url(#xb)" stroke="#111" stroke-width="1.1"/>
<rect x="516.4" y="671" width="54.4" height="174" fill="#fff" stroke="#111" stroke-width="1.1"/>
<path d="M516.4,675.5H570.8M516.4,679.5H570.8M516.4,682.5H570.8M516.4,686.5H570.8M516.4,690.5H570.8M516.4,693.5H570.8M516.4,697.5H570.8M516.4,701.5H570.8M516.4,704.5H570.8M516.4,708.5H570.8M516.4,712.5H570.8M516.4,715.5H570.8M516.4,719.5H570.8M516.4,723.5H570.8M516.4,726.5H570.8M516.4,730.5H570.8M516.4,734.5H570.8M516.4,737.5H570.8M516.4,741.5H570.8M516.4,745.5H570.8M516.4,748.5H570.8M516.4,752.5H570.8M516.4,756.5H570.8M516.4,759.5H570.8M516.4,763.5H570.8M516.4,767.5H570.8M516.4,770.5H570.8M516.4,774.5H570.8M516.4,778.5H570.8M516.4,781.5H570.8M516.4,785.5H570.8M516.4,789.5H570.8M516.4,792.5H570.8M516.4,796.5H570.8M516.4,800.5H570.8M516.4,803.5H570.8M516.4,807.5H570.8M516.4,811.5H570.8M516.4,814.5H570.8M516.4,818.5H570.8M516.4,822.5H570.8M516.4,825.5H570.8M516.4,829.5H570.8M516.4,832.5H570.8M516.4,836.5H570.8M516.4,840.5H570.8" stroke="#2a2a2a" stroke-width="1" fill="none"/>
<line x1="109.6" y1="578.7" x2="109.6" y2="630.3" stroke="#333" stroke-width="1"/>
<line x1="105.6" y1="578.7" x2="113.6" y2="578.7" stroke="#333" stroke-width="1"/>
<line x1="105.6" y1="630.3" x2="113.6" y2="630.3" stroke="#333" stroke-width="1"/>
<text x="109.6" y="577.8" font-size="13.6" text-anchor="middle">a</text>
<line x1="163.9" y1="581.8" x2="163.9" y2="633.2" stroke="#333" stroke-width="1"/>
<line x1="159.9" y1="581.8" x2="167.9" y2="581.8" stroke="#333" stroke-width="1"/>
<line x1="159.9" y1="633.2" x2="167.9" y2="633.2" stroke="#333" stroke-width="1"/>
<text x="163.9" y="580.5" font-size="13.6" text-anchor="middle">a</text>
<line x1="217.95" y1="588.3" x2="217.95" y2="620.7" stroke="#333" stroke-width="1"/>
<line x1="213.95" y1="588.3" x2="221.95" y2="588.3" stroke="#333" stroke-width="1"/>
<line x1="213.95" y1="620.7" x2="221.95" y2="620.7" stroke="#333" stroke-width="1"/>
<text x="217.95" y="587.2" font-size="13.6" text-anchor="middle">a</text>
<line x1="272.55" y1="572.9" x2="272.55" y2="640.7" stroke="#333" stroke-width="1"/>
<line x1="268.55" y1="572.9" x2="276.55" y2="572.9" stroke="#333" stroke-width="1"/>
<line x1="268.55" y1="640.7" x2="276.55" y2="640.7" stroke="#333" stroke-width="1"/>
<text x="272.55" y="571.9" font-size="13.6" text-anchor="middle">a</text>
<line x1="380.7" y1="654.1" x2="380.7" y2="684.6" stroke="#333" stroke-width="1"/>
<line x1="376.7" y1="654.1" x2="384.7" y2="654.1" stroke="#333" stroke-width="1"/>
<line x1="376.7" y1="684.6" x2="384.7" y2="684.6" stroke="#333" stroke-width="1"/>
<text x="380.7" y="652.9" font-size="13.6" text-anchor="middle">b</text>
<line x1="435.4" y1="607.7" x2="435.4" y2="667.4" stroke="#333" stroke-width="1"/>
<line x1="431.4" y1="607.7" x2="439.4" y2="607.7" stroke="#333" stroke-width="1"/>
<line x1="431.4" y1="667.4" x2="439.4" y2="667.4" stroke="#333" stroke-width="1"/>
<text x="435.4" y="606.7" font-size="13.6" text-anchor="middle">a</text>
<line x1="489.6" y1="665.8" x2="489.6" y2="681.4" stroke="#333" stroke-width="1"/>
<line x1="485.6" y1="665.8" x2="493.6" y2="665.8" stroke="#333" stroke-width="1"/>
<line x1="485.6" y1="681.4" x2="493.6" y2="681.4" stroke="#333" stroke-width="1"/>
<text x="489.6" y="664.2" font-size="13.6" text-anchor="middle">b</text>
<line x1="543.6" y1="660.6" x2="543.6" y2="681.8" stroke="#333" stroke-width="1"/>
<line x1="539.6" y1="660.6" x2="547.6" y2="660.6" stroke="#333" stroke-width="1"/>
<line x1="539.6" y1="681.8" x2="547.6" y2="681.8" stroke="#333" stroke-width="1"/>
<text x="543.6" y="659.6" font-size="13.6" text-anchor="middle">b</text>
<line x1="50.4" y1="845" x2="598.6" y2="845" stroke="#111" stroke-width="1.6"/>
</g>
</svg>
</body></html>
